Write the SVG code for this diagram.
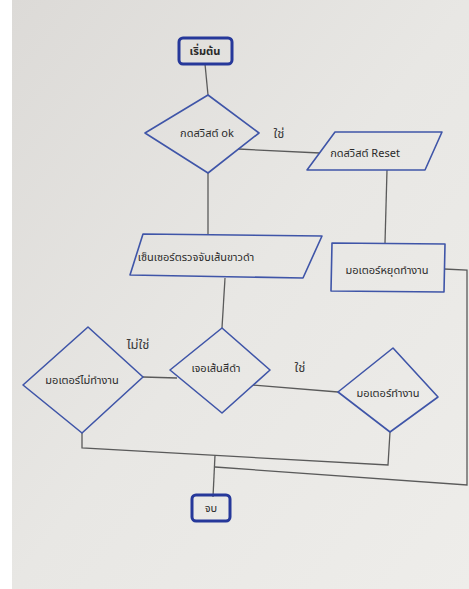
<svg xmlns="http://www.w3.org/2000/svg" width="469" height="589" viewBox="0 0 469 589">
<defs>
<style>
.shape{fill:none;stroke:#3f55a8;stroke-width:1.6;stroke-linejoin:round}
.term{fill:none;stroke:#26389a;stroke-width:3}
.conn{fill:none;stroke:#5a5a5a;stroke-width:1.3}
.t{font-family:"Noto Sans Thai","Noto Sans","DejaVu Sans",sans-serif;font-size:11px;fill:#2a2a2a;text-anchor:middle;dominant-baseline:central}
.lbl{font-family:"Noto Sans Thai","Noto Sans","DejaVu Sans",sans-serif;font-size:13px;fill:#3a3a3a;text-anchor:middle;dominant-baseline:central}
</style>
<linearGradient id="bg" x1="0" y1="0" x2="1" y2="1">
<stop offset="0" stop-color="#dcdad7"/>
<stop offset="0.5" stop-color="#e8e7e4"/>
<stop offset="1" stop-color="#eeedea"/>
</linearGradient>
</defs>
<rect x="0" y="0" width="469" height="589" fill="#ffffff"/>
<rect x="12" y="0" width="457" height="589" fill="url(#bg)"/>

<g id="connectors">
<line class="conn" x1="205" y1="64" x2="208" y2="95"/>
<line class="conn" x1="238" y1="149" x2="320" y2="153"/>
<line class="conn" x1="208" y1="173" x2="208" y2="234"/>
<line class="conn" x1="387" y1="170" x2="385" y2="243"/>
<line class="conn" x1="225" y1="278" x2="222" y2="328"/>
<polyline class="conn" points="444,269 467,270 467,485 215,467"/>
<line class="conn" x1="143" y1="377" x2="177" y2="378"/>
<line class="conn" x1="253" y1="385" x2="338" y2="392"/>
<polyline class="conn" points="82,433 82,448 388,465 390,432"/>
<line class="conn" x1="215" y1="455" x2="213" y2="497"/>
</g>

<g id="start">
<rect class="term" x="179" y="38" width="53" height="26" rx="4"/>
<text class="t" x="205" y="51" font-size="14" font-weight="bold" fill="#222">เริ่มต้น</text>
</g>

<g id="decision-ok">
<polygon class="shape" points="208,95 259,133 208,173 145,133"/>
<text class="t" x="207" y="133" font-size="12.5">กดสวิสต์ ok</text>
</g>
<g id="label-yes-1"><text class="lbl" x="279" y="134">ใช่</text></g>

<g id="reset-input">
<polygon class="shape" points="335,132 442,132 425,170 307,170"/>
<text class="t" x="365" y="153" font-size="11.5">กดสวิสต์ Reset</text>
</g>

<g id="motor-stop">
<polygon class="shape" points="332,243 445,244 444,292 331,291"/>
<text class="t" x="387" y="270" font-size="12">มอเตอร์หยุดทำงาน</text>
</g>

<g id="sensor">
<polygon class="shape" points="143,234 322,236 303,278 130,275"/>
<text class="t" x="196" y="257" font-size="10.5">เซ็นเซอร์ตรวจจับเส้นขาวดำ</text>
</g>

<g id="decision-line">
<polygon class="shape" points="222,328 270,370 222,413 170,370"/>
<text class="t" x="216" y="368" font-size="12">เจอเส้นสีดำ</text>
</g>
<g id="label-no"><text class="lbl" x="138" y="345">ไม่ใช่</text></g>
<g id="label-yes-2"><text class="lbl" x="300" y="368">ใช่</text></g>

<g id="motor-off">
<polygon class="shape" points="88,327 143,377 82,433 23,385"/>
<text class="t" x="82" y="380" font-size="11.5">มอเตอร์ไม่ทำงาน</text>
</g>

<g id="motor-on">
<polygon class="shape" points="393,348 438,397 390,432 338,392"/>
<text class="t" x="388" y="393" font-size="12">มอเตอร์ทำงาน</text>
</g>

<g id="end">
<rect class="term" x="192" y="495" width="38" height="26" rx="4"/>
<text class="t" x="211" y="508" font-size="12" fill="#222">จบ</text>
</g>
</svg>
